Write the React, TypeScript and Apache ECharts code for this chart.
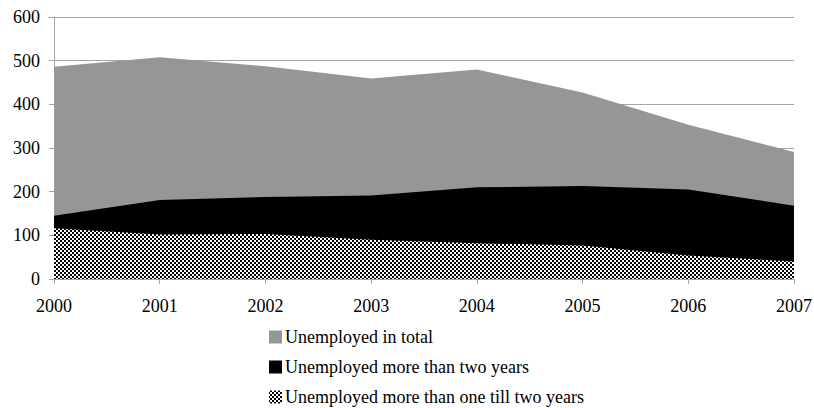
import React, { useEffect, useRef } from "react";
import * as echarts from "echarts";

const years = ["2000", "2001", "2002", "2003", "2004", "2005", "2006", "2007"];
const yTicks = [0, 100, 200, 300, 400, 500, 600];
const totalUnemployed = [486, 508, 487, 459, 480, 427, 353, 291];
const moreThanTwoYears = [145, 181, 188, 191, 210, 213, 205, 168];
const oneToTwoYears = [116, 102, 103, 90, 82, 77, 54, 40];
const seriesNames = [
  "Unemployed in total",
  "Unemployed more than two years",
  "Unemployed more than one till two years",
];

function makeChecker(): HTMLCanvasElement {
  const c = document.createElement("canvas");
  c.width = 4;
  c.height = 4;
  const ctx = c.getContext("2d")!;
  ctx.fillStyle = "#ffffff";
  ctx.fillRect(0, 0, 4, 4);
  ctx.fillStyle = "#000000";
  ctx.fillRect(0, 0, 2, 2);
  ctx.fillRect(2, 2, 2, 2);
  return c;
}

export default function App() {
  const ref = useRef<HTMLDivElement>(null);
  useEffect(() => {
    if (!ref.current) return;
    const chart = echarts.init(ref.current, null, { renderer: "svg" });
    const pattern: any = {
      image: makeChecker(),
      repeat: "repeat",
      imageWidth: 4,
      imageHeight: 4,
    };
    const font = "Liberation Serif";
    const colors: any[] = ["#969696", "#000000", pattern];
    const mk = (name: string, data: number[], color: any, z: number) => ({
      name,
      type: "line",
      data,
      z,
      showSymbol: false,
      symbol: "none",
      lineStyle: { width: 0 },
      itemStyle: { color },
      areaStyle: { color, opacity: 1 },
      emphasis: { disabled: true },
    });
    chart.setOption({
      animation: false,
      grid: { left: 54, right: 20, top: 17, bottom: 129, containLabel: false },
      xAxis: {
        type: "category",
        data: years,
        boundaryGap: false,
        axisLine: { lineStyle: { color: "#a6a6a6" } },
        axisTick: { show: true, length: 5, alignWithLabel: true, lineStyle: { color: "#a6a6a6" } },
        axisLabel: { show: false },
        splitLine: { show: false },
      },
      yAxis: {
        type: "value",
        min: 0,
        max: 600,
        interval: 100,
        axisLine: { show: true, lineStyle: { color: "#a6a6a6" } },
        axisTick: { show: true, length: 5, lineStyle: { color: "#a6a6a6" } },
        axisLabel: { show: false },
        splitLine: { show: true, lineStyle: { color: "#a6a6a6" } },
      },
      series: [
        mk(seriesNames[0], totalUnemployed, colors[0], 2),
        mk(seriesNames[1], moreThanTwoYears, colors[1], 3),
        mk(seriesNames[2], oneToTwoYears, colors[2], 4),
      ],
    });

    const txt = (text: string, x: number, y: number, align: string) => ({
      type: "text",
      x,
      y,
      z: 100,
      silent: true,
      style: {
        text,
        fontFamily: font,
        fontSize: 18,
        fill: "#000",
        align,
        textAlign: align,
        verticalAlign: "middle",
        textVerticalAlign: "middle",
      },
    });
    const g: any[] = [];
    yTicks.forEach((v) => {
      const py = chart.convertToPixel({ yAxisIndex: 0 }, v) as number;
      g.push(txt(String(v), 40, py, "right"));
    });
    years.forEach((yr, i) => {
      const px = chart.convertToPixel({ xAxisIndex: 0 }, i) as number;
      g.push(txt(yr, px, 306, "center"));
    });
    seriesNames.forEach((n, i) => {
      const cy = 337 + i * 30;
      g.push({
        type: "rect",
        z: 100,
        silent: true,
        shape: { x: 269, y: cy - 6.5, width: 13, height: 13 },
        style: { fill: colors[i] },
      });
      g.push(txt(n, 285, cy, "left"));
    });
    chart.setOption({ graphic: g });
    return () => chart.dispose();
  }, []);
  return <div ref={ref} style={{ width: 814, height: 408, position: "absolute", left: 0, top: 0 }} />;
}
